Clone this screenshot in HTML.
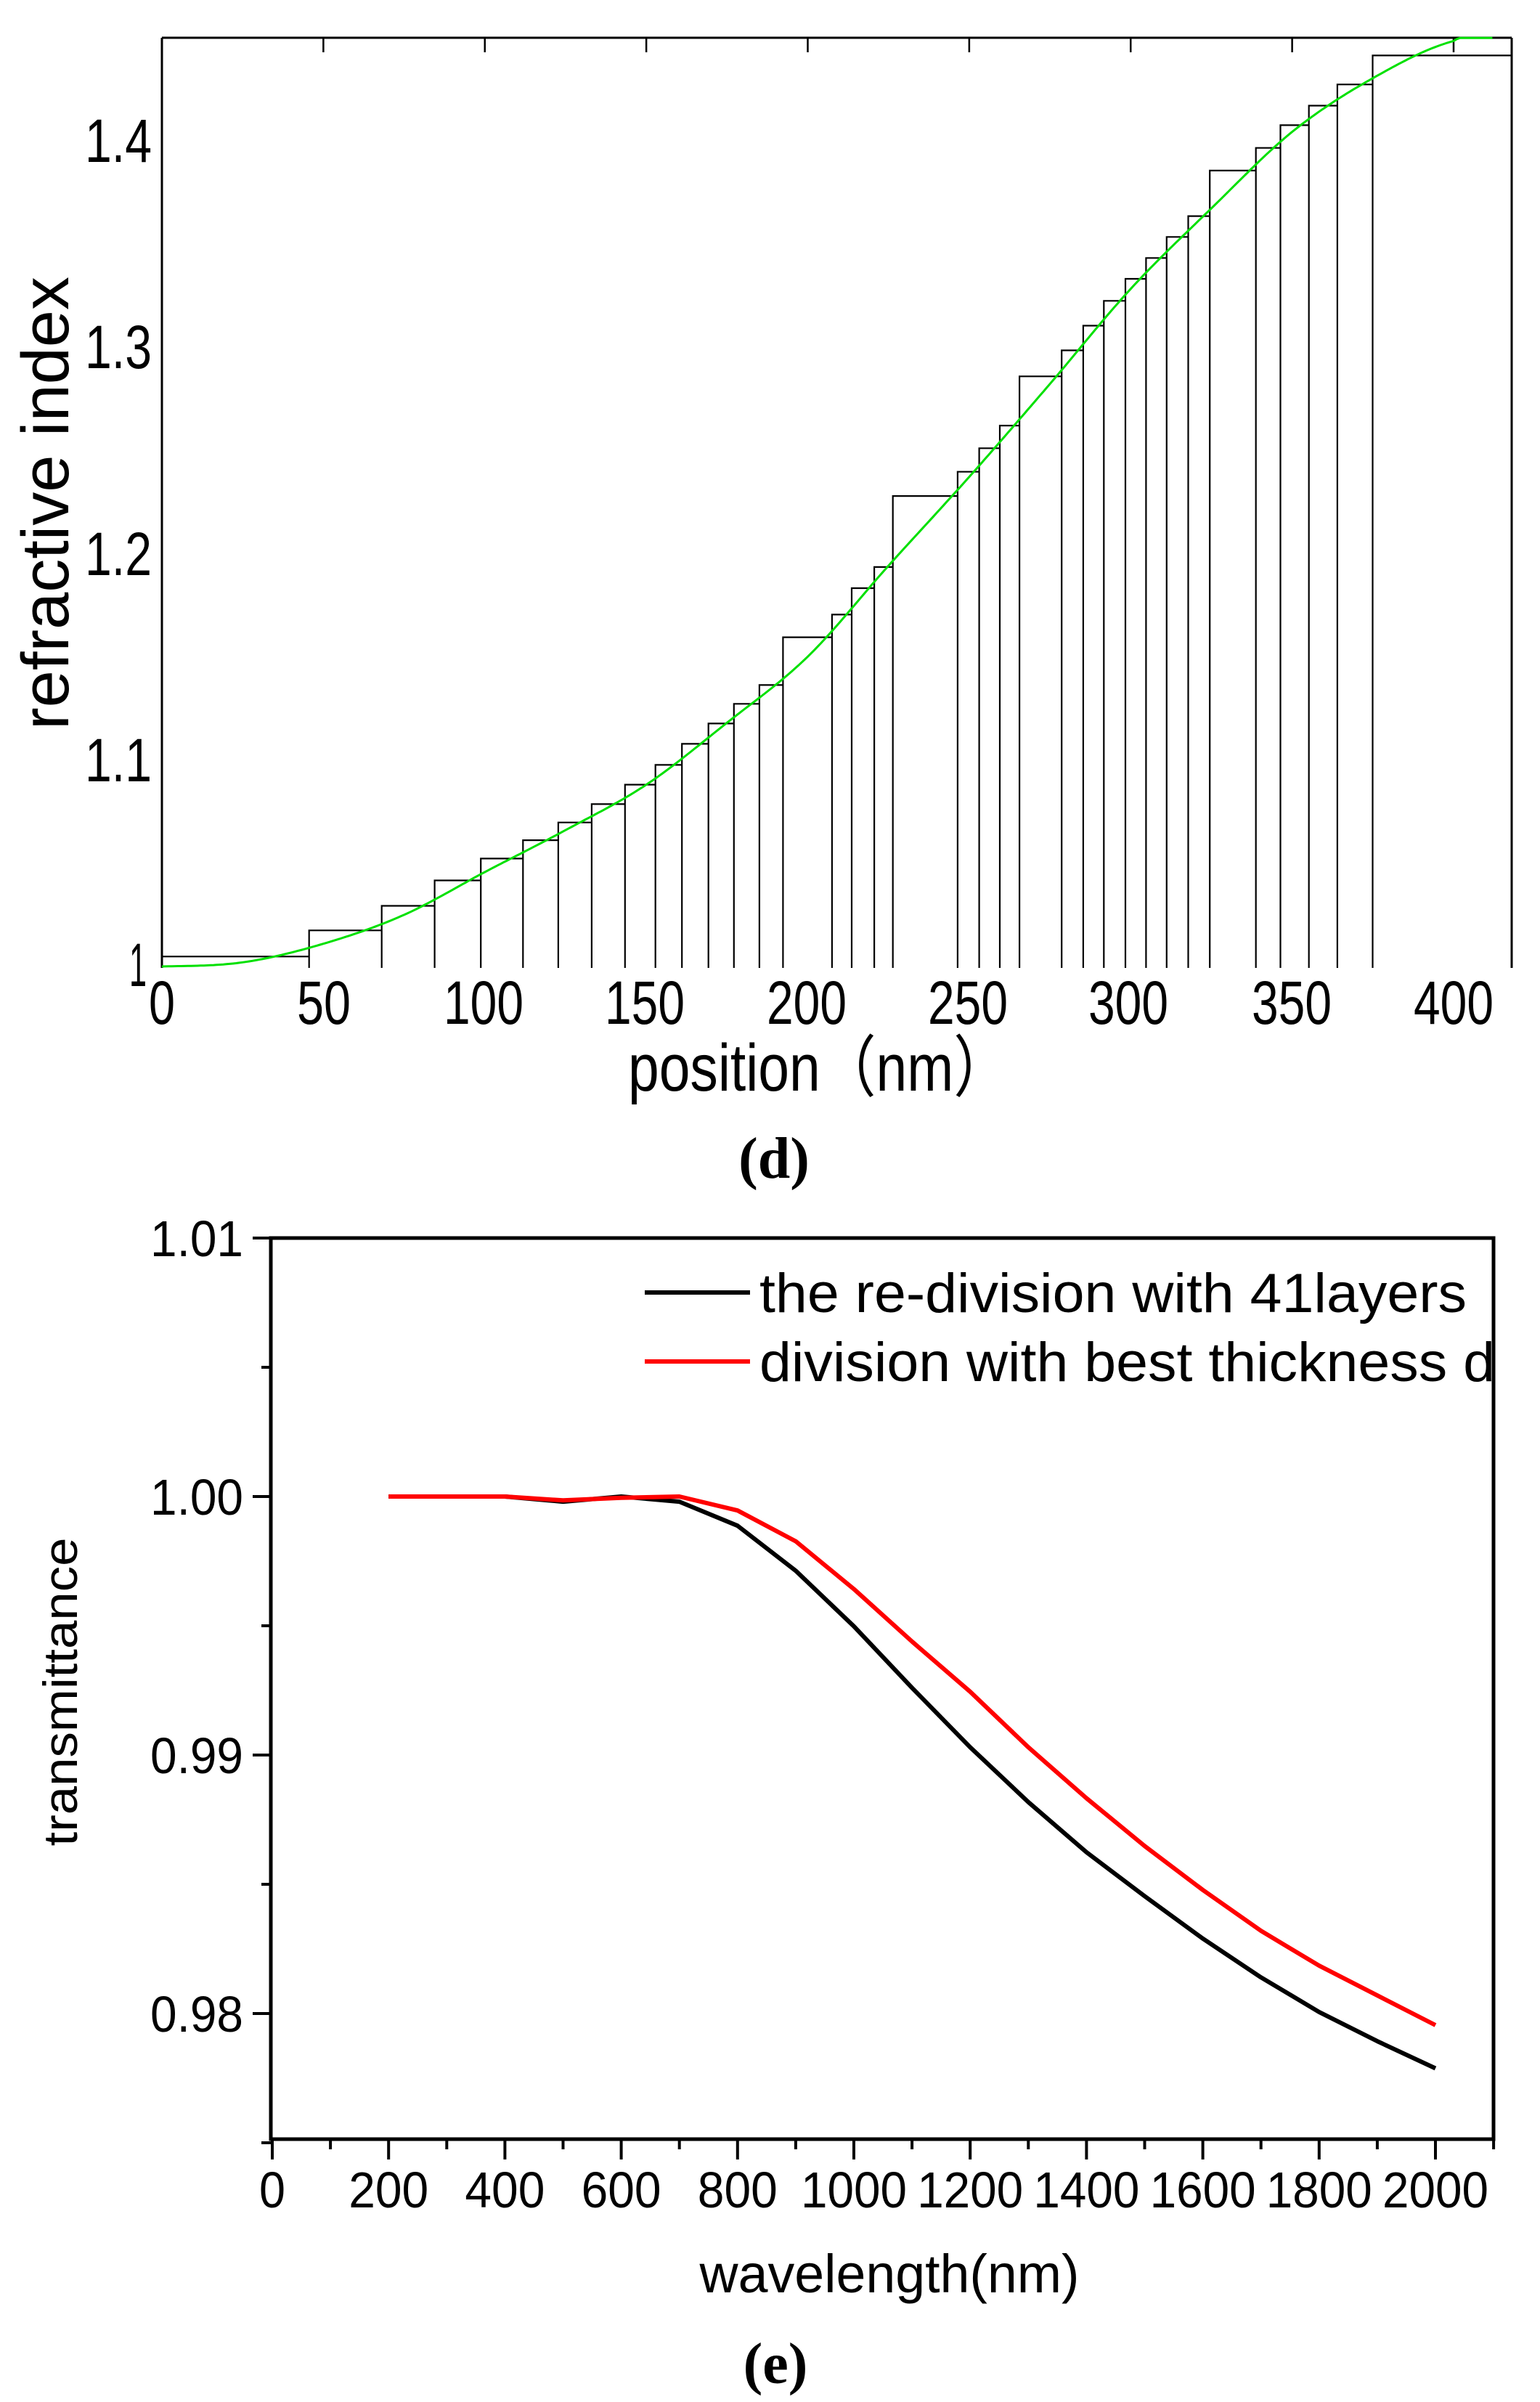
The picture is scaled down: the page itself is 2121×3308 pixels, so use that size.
<!DOCTYPE html>
<html><head><meta charset="utf-8"><style>
html,body{margin:0;padding:0;background:#fff;}
svg{display:block;}
text{font-family:"Liberation Sans",sans-serif;fill:#000;}
</style></head><body>
<svg id="s" width="2121" height="3308" viewBox="0 0 2121 3308" xmlns="http://www.w3.org/2000/svg">
<rect width="2121" height="3308" fill="#fff"/>
<g id="top"></g>
<g id="bot"></g>
<g font-size="84">
<text x="209" y="223" text-anchor="end" textLength="92" lengthAdjust="spacingAndGlyphs">1.4</text>
<text x="209" y="507" text-anchor="end" textLength="92" lengthAdjust="spacingAndGlyphs">1.3</text>
<text x="209" y="792" text-anchor="end" textLength="92" lengthAdjust="spacingAndGlyphs">1.2</text>
<text x="209" y="1076" text-anchor="end" textLength="92" lengthAdjust="spacingAndGlyphs">1.1</text>
<text x="202" y="1358" text-anchor="end" textLength="24" lengthAdjust="spacingAndGlyphs">1</text>
<text x="223" y="1410" text-anchor="middle" textLength="36" lengthAdjust="spacingAndGlyphs">0</text>
<text x="446" y="1410" text-anchor="middle" textLength="74" lengthAdjust="spacingAndGlyphs">50</text>
<text x="666" y="1410" text-anchor="middle" textLength="110" lengthAdjust="spacingAndGlyphs">100</text>
<text x="888" y="1410" text-anchor="middle" textLength="110" lengthAdjust="spacingAndGlyphs">150</text>
<text x="1111" y="1410" text-anchor="middle" textLength="110" lengthAdjust="spacingAndGlyphs">200</text>
<text x="1333" y="1410" text-anchor="middle" textLength="110" lengthAdjust="spacingAndGlyphs">250</text>
<text x="1554" y="1410" text-anchor="middle" textLength="110" lengthAdjust="spacingAndGlyphs">300</text>
<text x="1779" y="1410" text-anchor="middle" textLength="110" lengthAdjust="spacingAndGlyphs">350</text>
<text x="2002" y="1410" text-anchor="middle" textLength="110" lengthAdjust="spacingAndGlyphs">400</text>
</g>
<text x="865" y="1502" font-size="92" textLength="525" lengthAdjust="spacingAndGlyphs" font-family="Liberation Sans, Noto Sans CJK SC, sans-serif">position（nm）</text>
<text transform="translate(94,693) rotate(-90)" font-size="92" text-anchor="middle" textLength="624" lengthAdjust="spacingAndGlyphs">refractive index</text>
<text x="1066" y="1622" font-size="80" font-weight="bold" text-anchor="middle" style="font-family:'Liberation Serif',serif">(d)</text>
<g font-size="70">
<text x="335" y="1730" text-anchor="end" textLength="128" lengthAdjust="spacingAndGlyphs">1.01</text>
<text x="335" y="2086" text-anchor="end" textLength="128" lengthAdjust="spacingAndGlyphs">1.00</text>
<text x="335" y="2442" text-anchor="end" textLength="128" lengthAdjust="spacingAndGlyphs">0.99</text>
<text x="335" y="2798" text-anchor="end" textLength="128" lengthAdjust="spacingAndGlyphs">0.98</text>
</g>
<g font-size="70" id="xl"></g>
<text x="1225" y="3157" font-size="74" text-anchor="middle" textLength="523" lengthAdjust="spacingAndGlyphs">wavelength(nm)</text>
<text transform="translate(106,2330) rotate(-90)" font-size="66" text-anchor="middle" textLength="425" lengthAdjust="spacingAndGlyphs">transmittance</text>
<text x="1068" y="3282" font-size="80" font-weight="bold" text-anchor="middle" style="font-family:'Liberation Serif',serif">(e)</text>
<line x1="888" y1="1780" x2="1033" y2="1780" stroke="#000" stroke-width="6"/>
<line x1="888" y1="1875" x2="1033" y2="1875" stroke="#f00" stroke-width="6"/>
<text x="1046" y="1807" font-size="76" textLength="974" lengthAdjust="spacingAndGlyphs">the re-division with 41layers</text>
<text x="1046" y="1902" font-size="76" textLength="1013" lengthAdjust="spacingAndGlyphs">division with best thickness d</text>
</svg>
<script>
var NS="http://www.w3.org/2000/svg";
function el(p,n,a){var e=document.createElementNS(NS,n);for(var k in a)e.setAttribute(k,a[k]);p.appendChild(e);return e;}
var T=document.getElementById('top');
function tx(v){return 223+4.4475*v;}
function ty(v){return 1331-(v-1)*2845;}
var cp=[[-10,1.0],[0,1.0],[25,1.002],[50,1.011],[75,1.025],[100,1.0457],[125,1.066],[150,1.088],[175,1.118],[200,1.150],[225,1.194],[250,1.237],[275,1.282],[300,1.328],[325,1.367],[350,1.404],[375,1.430],[400,1.448],[410,1.451],[418,1.451],[430,1.451]];
function curve(x){
 for(var i=1;i<cp.length-2;i++){if(x<=cp[i+1][0]){
  var p0=cp[i-1][1],p1=cp[i][1],p2=cp[i+1][1],p3=cp[i+2][1];
  var t=(x-cp[i][0])/(cp[i+1][0]-cp[i][0]);
  return 0.5*((2*p1)+(-p0+p2)*t+(2*p0-5*p1+4*p2-p3)*t*t+(-p0+3*p1-3*p2+p3)*t*t*t);}}
 return 1.451;}
var zx=[165,315,389,443,490,533,569,603,637,668,695,722,748,774,798,848,868,891,910,976,998,1019,1039,1082,1104,1125,1147,1168,1189,1211,1233,1280,1305,1334,1363,1399,1538];
var ex=zx.map(function(z){return z/0.74;});
ex[0]=223;ex[ex.length-1]=2082;
var d="";
for(var i=0;i<ex.length-1;i++){
 var x0=ex[i],x1=ex[i+1];
 var nm=(x1-223)/4.4475;
 var lv=(i==ex.length-2)?1.441:Math.min(curve(nm)-0.003,1.441);
 if(i==0)lv=1.0048;
 var y=ty(lv);
 d+="M"+x0.toFixed(1)+" 1333V"+y.toFixed(1)+"H"+x1.toFixed(1)+"V1333";
}
el(T,'path',{d:d,fill:'none',stroke:'#000','stroke-width':2.2});
el(T,'path',{d:"M223 52H2082M223 52V1333M2082 52V1333",fill:'none',stroke:'#000','stroke-width':3});
var tk="";
for(var v=50;v<=400;v+=50){var x=tx(v);tk+="M"+x+" 52V72";}
el(T,'path',{d:tk,stroke:'#000','stroke-width':2.5});
var g="";
for(var x=0;x<=412;x+=1){var X=tx(x),Y=ty(Math.min(curve(x),1.4495));g+=(x?"L":"M")+X.toFixed(1)+" "+Y.toFixed(1);}
el(T,'path',{d:g,fill:'none',stroke:'#00e000','stroke-width':3});
var B=document.getElementById('bot');
function bx(v){return 375+0.801*v;}
function by(v){return 2061-(v-1.0)*35600;}
el(B,'path',{d:"M373 1705H2057V2946H373Z",fill:'none',stroke:'#000','stroke-width':5});
var t2="";
[1.01,1.0,0.99,0.98].forEach(function(v){t2+="M348 "+by(v)+"H373";});
[1.005,0.995,0.985,0.975].forEach(function(v){t2+="M360 "+by(v)+"H373";});
for(var w=0;w<=2100;w+=100){var X=bx(w);t2+="M"+X+" 2946V"+(w%200==0?2974:2960);}
el(B,'path',{d:t2,stroke:'#000','stroke-width':4});
var XL=document.getElementById('xl');
for(var w=0;w<=2000;w+=200){var t=el(XL,'text',{x:bx(w),y:3040,'text-anchor':'middle',textLength:(w==0?36:(w<1000?110:146)),lengthAdjust:'spacingAndGlyphs'});t.textContent=w;}
var blk=[[200,1.0],[300,1.0],[400,1.0],[500,0.9998],[600,1.0],[700,0.9998],[800,0.99887],[900,0.99713],[1000,0.99498],[1100,0.9926],[1200,0.9903],[1300,0.98818],[1400,0.98624],[1500,0.98454],[1600,0.9829],[1700,0.9814],[1800,0.98006],[1900,0.97893],[2000,0.97788]];
var red=[[200,1.0],[300,1.0],[400,1.0],[500,0.99985],[600,0.99995],[700,1.0],[800,0.99946],[900,0.99827],[1000,0.99642],[1100,0.99439],[1200,0.99245],[1300,0.9903],[1400,0.98833],[1500,0.98648],[1600,0.98478],[1700,0.9832],[1800,0.98185],[1900,0.9807],[2000,0.97955]];
function pl(a){return a.map(function(p,i){return (i?"L":"M")+bx(p[0]).toFixed(1)+" "+by(p[1]).toFixed(1);}).join("");}
el(B,'path',{d:pl(blk),fill:'none',stroke:'#000','stroke-width':6,'stroke-linejoin':'round'});
el(B,'path',{d:pl(red),fill:'none',stroke:'#f00','stroke-width':6,'stroke-linejoin':'round'});
</script>
</body></html>
